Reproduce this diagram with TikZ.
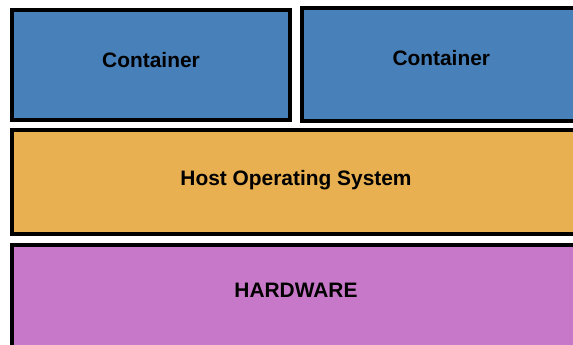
\documentclass[tikz,border=0pt]{standalone}
\usepackage{fontspec}
\setmainfont{Liberation Sans}
\definecolor{contblue}{RGB}{72,128,185}
\definecolor{hostorange}{RGB}{232,176,80}
\definecolor{hwpurple}{RGB}{200,120,200}
\begin{document}
\begin{tikzpicture}[x=1pt,y=-1pt,
  layer/.style={draw=black,line width=4pt,line join=miter},
  lbl/.style={font=\bfseries\fontsize{20.9}{24}\selectfont,anchor=base,inner sep=0pt}]
\useasboundingbox (0,0) rectangle (573,345);
\clip (0,0) rectangle (573,345);
% stack of layers, bottom layers run past the right and lower edges
\draw[layer,fill=contblue] (12,10) rectangle (290,120);
\draw[layer,fill=contblue] (302,8.5) rectangle (590,120.5);
\draw[layer,fill=hostorange] (12,130) rectangle (590,234.3);
\draw[layer,fill=hwpurple] (12,244.7) rectangle (590,360);
% labels
\node[lbl] (c1) at (151,67) {Container};
\node[lbl] (c2) at (441.3,66) {Container};
\node[lbl] (host) at (296,185) {Host Operating System};
\node[lbl] (hw) at (296,297.7) {HARDWARE};
\end{tikzpicture}
\end{document}
